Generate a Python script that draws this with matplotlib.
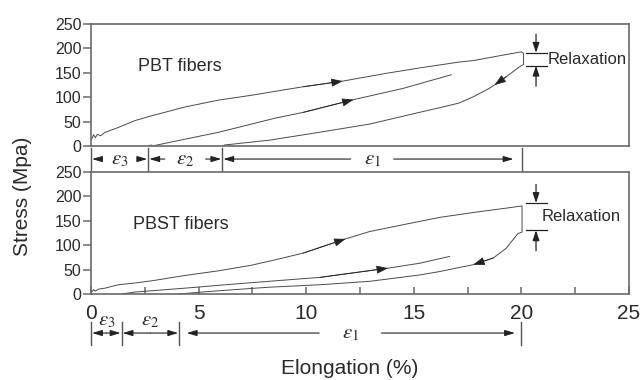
import numpy as np
import matplotlib.pyplot as plt
from matplotlib.transforms import blended_transform_factory

plt.rcParams['font.family'] = ['Liberation Sans', 'DejaVu Sans']
plt.rcParams['mathtext.fontset'] = 'stix'

# PBT fibers: first loading -> relaxation drop -> unloading (one trace)
pbt_cycle_x = [0.03, 0.12, 0.2, 0.3, 0.45, 0.65, 1.27, 2.04, 2.82, 4.37, 5.92, 7.46, 8.55,
               9.87, 11.7, 13.73, 15.27, 17.1, 17.76, 19.3, 20.0, 20.1,
               20.1, 19.9, 19.3, 18.75, 18.5, 17.76, 17.1, 16.2, 15.27, 12.95, 10.6, 8.3, 6.2, 6.1]
pbt_cycle_y = [14, 23, 17, 24, 21, 28, 38, 52, 62, 80, 94, 104, 112,
               121.5, 133, 149, 160, 172, 175, 187.5, 193, 190,
               167, 162, 142, 125, 118, 100.7, 88, 78.5, 69, 45, 28, 12, 2, 0]
# PBT fibers: reloading
pbt_reload_x = [2.66, 2.8, 2.9, 4.37, 5.92, 7.46, 8.55, 9.87, 12.2, 14.5, 16.74]
pbt_reload_y = [0, 2, 0.5, 14, 28, 45, 57, 69, 95, 118, 146]

# PBST fibers
pbst_cycle_x = [0.03, 0.12, 0.19, 0.35, 0.65, 1.27, 2.04, 2.82, 4.37, 5.92, 7.46, 8.55, 9.87,
                11.83, 12.95, 14.5, 16.2, 17.76, 19.3, 20.03,
                20.03, 19.83, 19.3, 18.7, 17.76, 16.97, 16.2, 15.27, 12.95, 10.63, 8.3, 6.68, 5.14, 4.1]
pbst_cycle_y = [4, 9, 6, 10, 12, 19, 22.5, 27, 38, 47.5, 59, 70, 84,
                113, 128, 142, 157, 167, 176, 180.5,
                127, 123.5, 94, 74, 60, 53, 46, 39, 26, 19, 14, 9, 4, 0]
pbst_reload_x = [1.42, 2.04, 4.37, 6.68, 8.55, 10.63, 13.8, 15.27, 16.66]
pbst_reload_y = [0, 4, 12, 20.5, 27, 34, 53, 63, 77]

# arrow heads: (curve, index of tip point)
pbt_arrows = [('cycle', 14), ('reload', 8), ('cycle', 25)]
pbst_arrows = [('cycle', 13), ('reload', 6), ('cycle', 24)]

# relaxation markers: levels of the two bars
pbt_relax = (191, 164.6)
pbst_relax = (186.5, 130.5)

# strain regions under each panel (boundaries in %)
pbt_bounds = [0, 2.66, 6.1, 20.03]
pbst_bounds = [0, 1.42, 4.1, 20.0]
eps_labels = [r'$\varepsilon_3$', r'$\varepsilon_2$', r'$\varepsilon_1$']

line_c = '#4a4a4a'
spine_c = '#6a6a6a'
text_c = '#2a2a2a'

fig = plt.figure(figsize=(6.4, 3.8), dpi=100)
ax1 = fig.add_axes([0.1422, 0.6158, 0.8406, 0.321])
ax2 = fig.add_axes([0.1422, 0.2263, 0.8406, 0.321])


def style_axis(ax):
    ax.set_xlim(0, 25)
    ax.set_ylim(0, 250)
    ax.set_yticks([0, 50, 100, 150, 200, 250])
    for s in ax.spines.values():
        s.set_color(spine_c)
        s.set_linewidth(1.2)
    ax.tick_params(axis='y', direction='out', length=6, width=1.1, color=spine_c,
                   labelsize=11.5, labelcolor=text_c, pad=1)


def draw_arrows(ax, curves, arrows):
    for name, k in arrows:
        xs, ys = curves[name]
        ax.annotate('', xy=(xs[k], ys[k]), xytext=(xs[k - 1], ys[k - 1]),
                    arrowprops=dict(arrowstyle='-|>,head_length=0.7,head_width=0.25',
                                    color='#222222', lw=0.6, shrinkA=0, shrinkB=0))


def draw_relax(ax, levels, text_x):
    hi, lo = levels
    ax.plot([20.2, 21.2], [hi, hi], color='#222222', lw=0.9)
    ax.plot([20.2, 21.2], [lo, lo], color='#222222', lw=0.9)
    ax.annotate('', xy=(20.68, hi), xytext=(20.68, hi + 38),
                arrowprops=dict(arrowstyle='-|>,head_length=0.6,head_width=0.2',
                                color='#222222', lw=0.9, shrinkA=0, shrinkB=0))
    ax.annotate('', xy=(20.68, lo), xytext=(20.68, lo - 42),
                arrowprops=dict(arrowstyle='-|>,head_length=0.6,head_width=0.2',
                                color='#222222', lw=0.9, shrinkA=0, shrinkB=0))
    ax.text(text_x, (hi + lo) / 2, 'Relaxation', fontsize=12, color=text_c,
            va='center', ha='left')


def arrow(ax, trans, x0, x1, y):
    ax.annotate('', xy=(x1, y), xytext=(x0, y), xycoords=trans, textcoords=trans,
                arrowprops=dict(arrowstyle='-|>,head_length=0.6,head_width=0.18',
                                color='#222222', lw=0.8, shrinkA=0, shrinkB=0),
                annotation_clip=False)


def bar(ax, trans, x, y0, y1):
    ax.plot([x, x], [y0, y1], transform=trans, color='#555555', lw=1.0, clip_on=False)


# ---- top panel (PBT)
style_axis(ax1)
ax1.tick_params(axis='x', bottom=False, labelbottom=False)
ax1.plot(pbt_cycle_x, pbt_cycle_y, color=line_c, lw=0.7)
ax1.plot(pbt_reload_x, pbt_reload_y, color=line_c, lw=0.7)
draw_arrows(ax1, {'cycle': (pbt_cycle_x, pbt_cycle_y),
                  'reload': (pbt_reload_x, pbt_reload_y)}, pbt_arrows)
draw_relax(ax1, pbt_relax, 21.2)
ax1.text(2.18, 163, 'PBT fibers', fontsize=13, color=text_c, va='center')

t1 = blended_transform_factory(ax1.transData, ax1.transAxes)
for b in pbt_bounds:
    bar(ax1, t1, b, -0.016, -0.205)
ya = -0.107
gaps = [0.85, 0.95, 1.0]
for i in range(3):
    a, b = pbt_bounds[i], pbt_bounds[i + 1]
    mid = (a + b) / 2
    ax1.text(mid, ya, eps_labels[i], transform=t1, fontsize=15, color=text_c,
             ha='center', va='center')
    arrow(ax1, t1, mid - gaps[i], a + 0.05, ya)
    arrow(ax1, t1, mid + gaps[i], b - (0.4 if i == 2 else 0.05), ya)

# ---- bottom panel (PBST)
style_axis(ax2)
ax2.set_xticks([0, 5, 10, 15, 20, 25])
ax2.set_xticks([2.5, 7.5, 12.5, 17.5, 22.5], minor=True)
ax2.tick_params(axis='x', which='both', direction='in', length=5, width=1.1, color=spine_c,
                labelsize=15, labelcolor=text_c, pad=7)
ax2.plot(pbst_cycle_x, pbst_cycle_y, color=line_c, lw=0.7)
ax2.plot(pbst_reload_x, pbst_reload_y, color=line_c, lw=0.7)
draw_arrows(ax2, {'cycle': (pbst_cycle_x, pbst_cycle_y),
                  'reload': (pbst_reload_x, pbst_reload_y)}, pbst_arrows)
draw_relax(ax2, pbst_relax, 20.95)
ax2.text(1.96, 143, 'PBST fibers', fontsize=13, color=text_c, va='center')

t2 = blended_transform_factory(ax2.transData, ax2.transAxes)
for b in pbst_bounds:
    bar(ax2, t2, b, -0.23, -0.42)
yb = -0.32
for i in range(2):
    a, b = pbst_bounds[i], pbst_bounds[i + 1]
    mid = (a + b) / 2
    ax2.text(mid, -0.215, eps_labels[i], transform=t2, fontsize=15, color=text_c,
             ha='center', va='center')
    arrow(ax2, t2, mid, a + 0.05, yb)
    arrow(ax2, t2, mid, b - 0.05, yb)
a, b = pbst_bounds[2], pbst_bounds[3]
mid = (a + b) / 2
ax2.text(mid, yb, eps_labels[2], transform=t2, fontsize=15, color=text_c,
         ha='center', va='center')
arrow(ax2, t2, mid - 1.45, a + 0.35, yb)
arrow(ax2, t2, mid + 1.45, b - 0.3, yb)

fig.text(0.035, 1 - 196 / 380, 'Stress (Mpa)', rotation=90, fontsize=15,
         color=text_c, ha='center', va='center')
fig.text(350 / 640, 1 - 368 / 380, 'Elongation (%)', fontsize=15,
         color=text_c, ha='center', va='center')

fig.savefig('out.png', dpi=100)
